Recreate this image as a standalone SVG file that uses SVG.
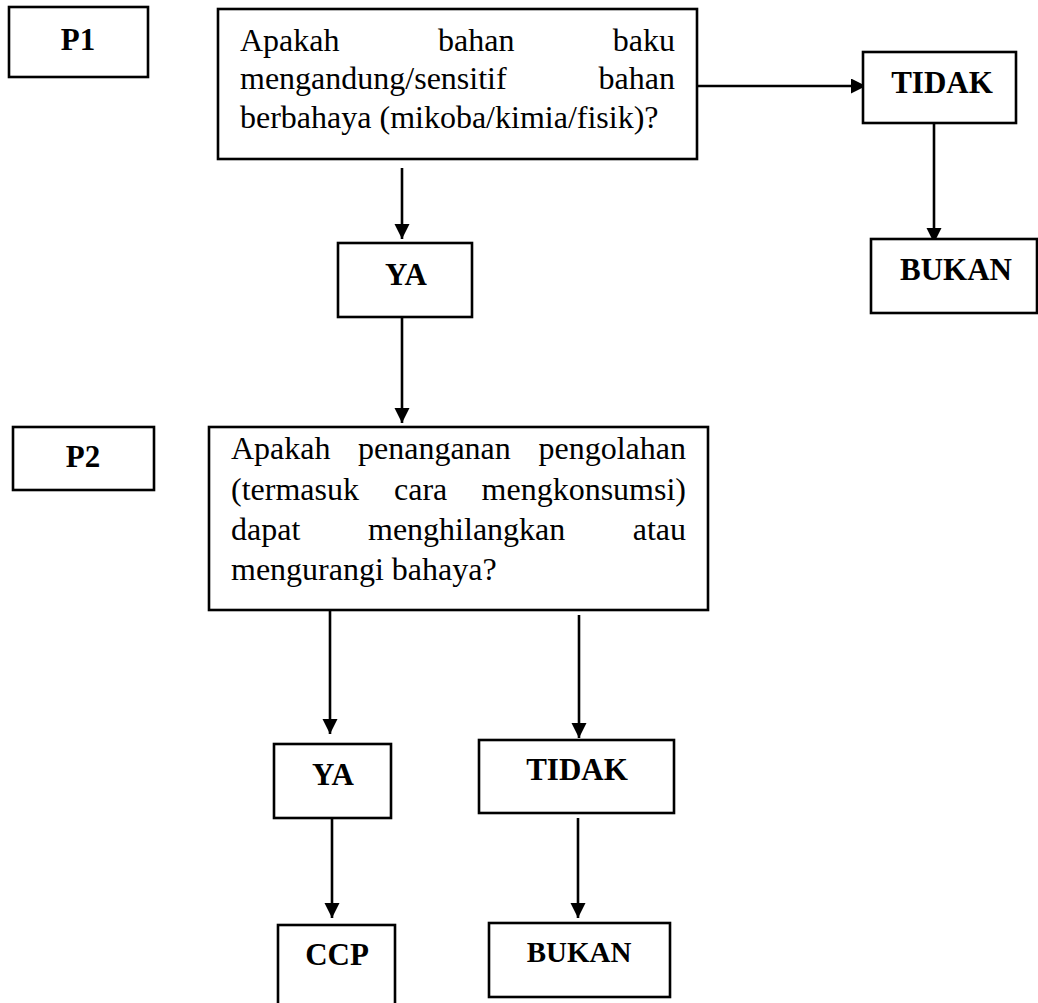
<svg xmlns="http://www.w3.org/2000/svg" width="1038" height="1003" viewBox="0 0 1038 1003">
<defs>
<marker id="arr" markerUnits="userSpaceOnUse" markerWidth="16" markerHeight="16" refX="15" refY="7.5" orient="auto">
<path d="M0,0 L15,7.5 L0,15 z" fill="#000"/>
</marker>
<style>
rect{fill:#fff;stroke:#000;stroke-width:2.6}
.lbl{font-family:"Liberation Serif","Times New Roman",serif;font-weight:bold;font-size:31px;text-anchor:middle;fill:#000}
.q{font-family:"Liberation Serif","Times New Roman",serif;font-size:32px;fill:#000}
.e{text-anchor:end}
.c line{stroke:#000;stroke-width:2.6;marker-end:url(#arr)}
</style>
</defs>
<rect width="1038" height="1003" style="fill:#fff;stroke:none"/>
<g class="c" id="connectors">
<line x1="698" y1="86" x2="866" y2="86"/>
<line x1="934" y1="123" x2="934" y2="243"/>
<line x1="402" y1="168" x2="402" y2="239"/>
<line x1="402" y1="317" x2="402" y2="423"/>
<line x1="330" y1="610" x2="330" y2="734"/>
<line x1="332" y1="818" x2="332" y2="918"/>
<line x1="579" y1="615" x2="579" y2="738"/>
<line x1="578" y1="818" x2="578" y2="918"/>
</g>
<g id="p1"><rect x="9" y="7" width="139" height="70"/><text class="lbl" x="78" y="50">P1</text></g>
<g id="q1"><rect x="218" y="9" width="479" height="150"/>
<text class="q" x="240" y="51">Apakah</text><text class="q" x="438" y="51">bahan</text><text class="q e" x="675" y="51">baku</text>
<text class="q" x="240" y="89">mengandung/sensitif</text><text class="q e" x="675" y="89">bahan</text>
<text class="q" x="240" y="128">berbahaya (mikoba/kimia/fisik)?</text>
</g>
<g id="tidak1"><rect x="863" y="52" width="153" height="71"/><text class="lbl" x="942" y="93">TIDAK</text></g>
<g id="bukan1"><rect x="871" y="239" width="166" height="74"/><text class="lbl" x="956" y="280">BUKAN</text></g>
<g id="ya1"><rect x="338" y="243" width="134" height="74"/><text class="lbl" x="406" y="285">YA</text></g>
<g id="p2"><rect x="13" y="427" width="141" height="63"/><text class="lbl" x="83" y="467">P2</text></g>
<g id="q2"><rect x="209" y="427" width="499" height="183"/>
<text class="q" x="231" y="459">Apakah</text><text class="q" x="358" y="459">penanganan</text><text class="q e" x="686" y="459">pengolahan</text>
<text class="q" x="231" y="500">(termasuk</text><text class="q" x="394" y="500">cara</text><text class="q e" x="686" y="500">mengkonsumsi)</text>
<text class="q" x="231" y="540">dapat</text><text class="q" x="368" y="540">menghilangkan</text><text class="q e" x="686" y="540">atau</text>
<text class="q" x="231" y="580">mengurangi bahaya?</text>
</g>
<g id="ya2"><rect x="274" y="744" width="117" height="74"/><text class="lbl" x="333" y="785">YA</text></g>
<g id="tidak2"><rect x="479" y="740" width="195" height="73"/><text class="lbl" x="577" y="780">TIDAK</text></g>
<g id="ccp"><rect x="278" y="925" width="117" height="90"/><text class="lbl" x="337" y="965">CCP</text></g>
<g id="bukan2"><rect x="489" y="923" width="181" height="74"/><text class="lbl" x="579" y="962" style="font-size:29px">BUKAN</text></g>
</svg>
